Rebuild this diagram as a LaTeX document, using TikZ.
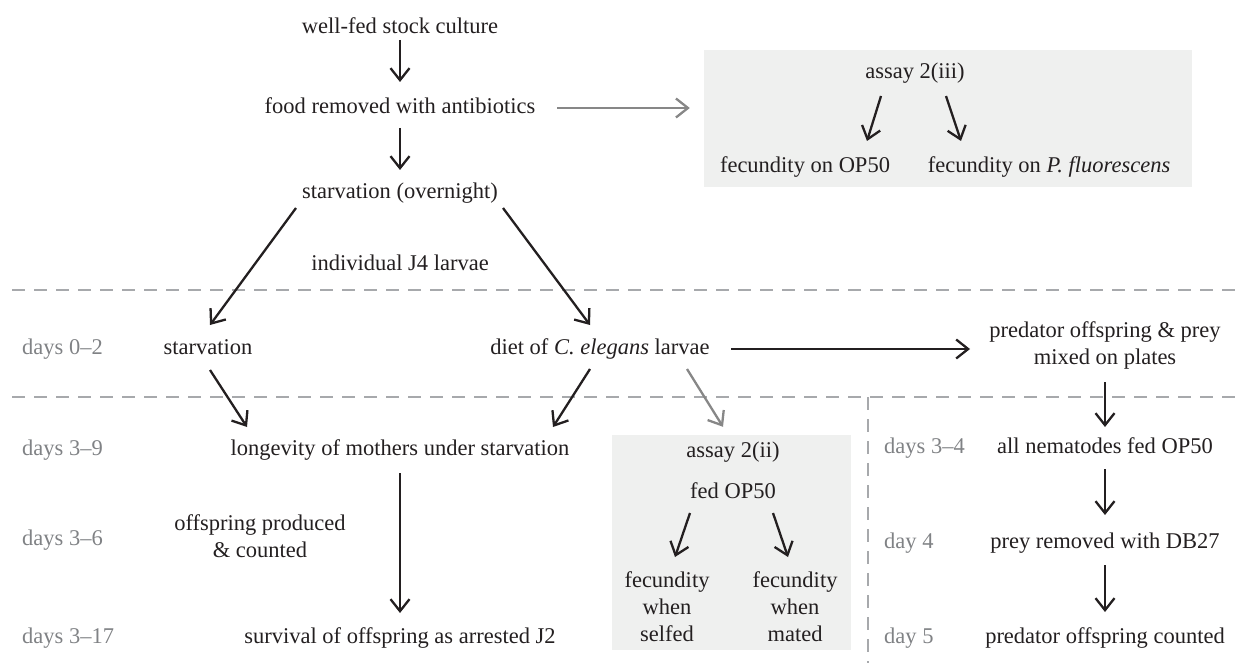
\documentclass[tikz,border=0pt]{standalone}
\usepackage{fontspec}
\setmainfont{Liberation Serif}
\usetikzlibrary{arrows.meta}
\definecolor{ink}{HTML}{231F20}
\definecolor{daygray}{HTML}{808285}
\definecolor{dashgray}{HTML}{A7A9AC}
\definecolor{arrgray}{HTML}{878787}
\definecolor{boxgray}{HTML}{EFF0EF}
\begin{document}
\begin{tikzpicture}[x=1pt,y=-1pt,
  font=\fontsize{22.5}{27}\selectfont,
  txt/.style={inner sep=0pt, text height=15.5pt, text depth=5pt, text=ink},
  multi/.style={inner sep=0pt, align=center, text=ink},
  day/.style={inner sep=0pt, text height=15.5pt, text depth=5pt, text=daygray, anchor=west},
  panel/.style={fill=boxgray, draw=none, inner sep=0pt},
  arr/.style={draw=ink, line width=2.3pt, -{Straight Barb[length=12pt,width=19pt]}},
  garr/.style={draw=arrgray, line width=2.3pt, -{Straight Barb[length=12pt,width=19pt]}},
  sep/.style={draw=dashgray, line width=2pt, dash pattern=on 13pt off 9pt}]
\useasboundingbox (0,0) rectangle (1239,663);
% panels
\node[panel, minimum width=488pt, minimum height=137pt] (bx3) at (948,118.5) {};
\node[panel, minimum width=239pt, minimum height=215pt] (bx2) at (731.5,542.5) {};
% separators
\coordinate (hl1) at (12,290); \coordinate (hr1) at (1239,290);
\coordinate (hl2) at (12,397); \coordinate (hr2) at (1239,397);
\coordinate (vt) at (868,397); \coordinate (vb) at (868,663);
\draw[sep] (hl1) -- (hr1);
\draw[sep] (hl2) -- (hr2);
\draw[sep] (vt) -- (vb);
% main column
\node[txt] (wf) at (400,28) {well-fed stock culture};
\node[txt] (food) at (400,108) {food removed with antibiotics};
\node[txt] (so) at (400,193) {starvation (overnight)};
\node[txt] (j4) at (400,265) {individual J4 larvae};
\node[day] (d02) at (22,349) {days 0–2};
\node[txt] (st) at (208,349) {starvation};
\node[txt] (diet) at (600,349) {diet of \textit{C. elegans} larvae};
\node[multi] (pred) at (1105,345) {predator offspring \& prey\\mixed on plates};
\node[day] (d39) at (22,450) {days 3–9};
\node[txt] (long) at (400,450) {longevity of mothers under starvation};
\node[day] (d36) at (22,540) {days 3–6};
\node[multi] (offp) at (260,536) {offspring produced\\\& counted};
\node[day] (d317) at (22,638) {days 3–17};
\node[txt] (surv) at (400,638) {survival of offspring as arrested J2};
% assay 2(iii)
\node[txt] (a3) at (915,73) {assay 2(iii)};
\node[txt] (fop) at (805,167) {fecundity on OP50};
\node[txt] (fpf) at (1049,167) {fecundity on \textit{P. fluorescens}};
% assay 2(ii)
\node[txt] (a2) at (733,452) {assay 2(ii)};
\node[txt] (fed) at (733,493) {fed OP50};
\node[multi] (self) at (667,607) {fecundity\\when\\selfed};
\node[multi] (mate) at (795,607) {fecundity\\when\\mated};
% right column
\node[day] (d34) at (884,448) {days 3–4};
\node[txt] (nf) at (1105,448) {all nematodes fed OP50};
\node[day] (d4) at (884,543) {day 4};
\node[txt] (prw) at (1105,543) {prey removed with DB27};
\node[day] (d5) at (884,638) {day 5};
\node[txt] (poc) at (1105,638) {predator offspring counted};
% arrows
\draw[arr] ([shift={(0,12)}]wf.center) -- ([shift={(0,-26)}]food.center);
\draw[arr] ([shift={(0,20)}]food.center) -- ([shift={(0,-23)}]so.center);
\draw[arr] ([shift={(-104,15)}]so.center) -- ([shift={(2,-24)}]st.center);
\draw[arr] ([shift={(103,15)}]so.center) -- ([shift={(-10,-24)}]diet.center);
\draw[arr] ([shift={(131,0)}]diet.center) -- ([shift={(-135,4)}]pred.center);
\draw[arr] ([shift={(2,21)}]st.center) -- ([shift={(-153,-23)}]long.center);
\draw[arr] ([shift={(-10,20)}]diet.center) -- ([shift={(153,-23)}]long.center);
\draw[garr] ([shift={(87,20)}]diet.center) -- ([shift={(-8.5,-8)}]bx2.north);
\draw[arr] ([shift={(0,23)}]long.center) -- ([shift={(0,-25)}]surv.center);
\draw[arr] ([shift={(0,37)}]pred.center) -- ([shift={(0,-21)}]nf.center);
\draw[arr] ([shift={(0,21)}]nf.center) -- ([shift={(0,-28)}]prw.center);
\draw[arr] ([shift={(0,22)}]prw.center) -- ([shift={(0,-26)}]poc.center);
\draw[arr] ([shift={(-43,20)}]fed.center) -- ([shift={(8,-50)}]self.center);
\draw[arr] ([shift={(40,20)}]fed.center) -- ([shift={(-7,-50)}]mate.center);
\draw[arr] ([shift={(-34,23)}]a3.center) -- ([shift={(62,-26)}]fop.center);
\draw[arr] ([shift={(31,23)}]a3.center) -- ([shift={(-88,-26)}]fpf.center);
\draw[garr] ([shift={(22,0)}]food.east) -- ([shift={(-14,-10.5)}]bx3.west);
\end{tikzpicture}
\end{document}
